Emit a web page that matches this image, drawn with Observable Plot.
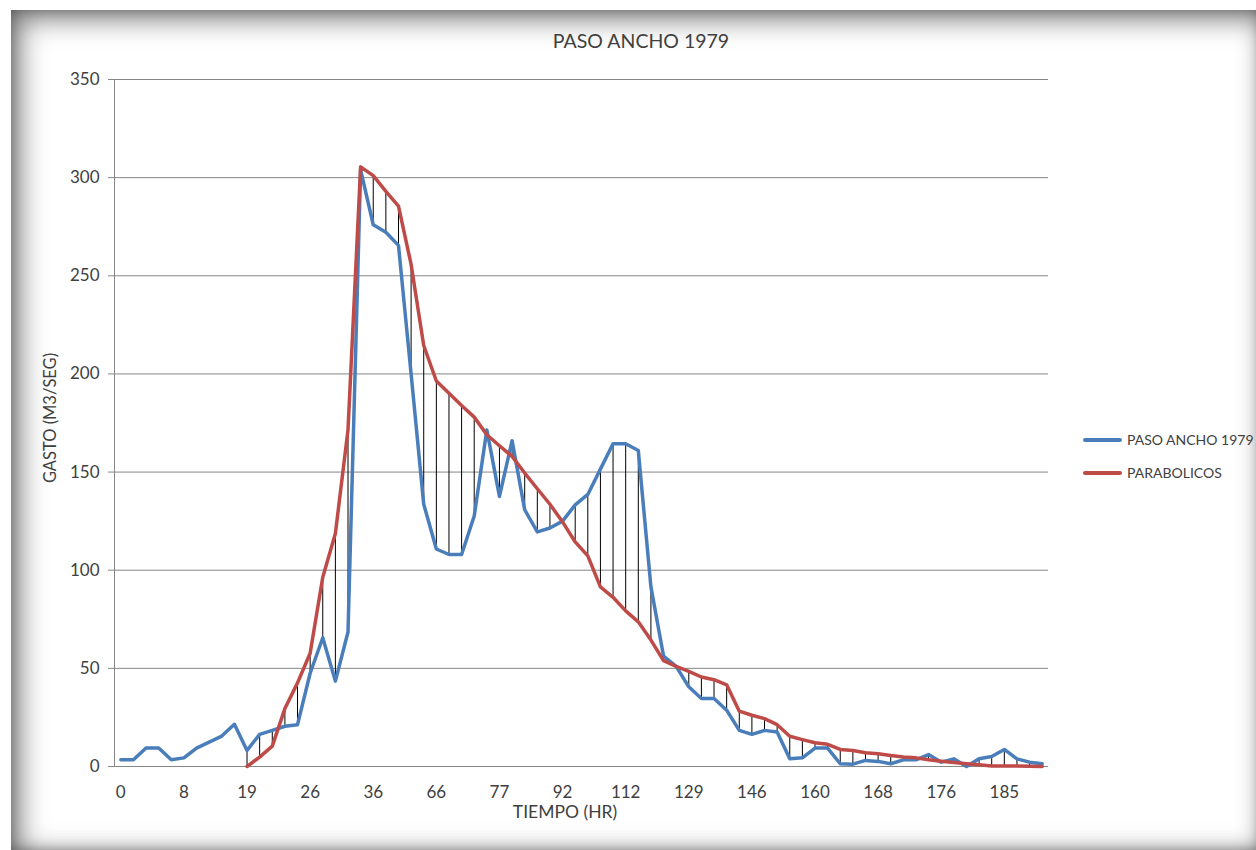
<!DOCTYPE html>
<html><head><meta charset="utf-8">
<script src="https://cdn.jsdelivr.net/npm/d3@7"></script>
<script src="https://cdn.jsdelivr.net/npm/@observablehq/plot@0.6"></script>
<style>
html,body{margin:0;padding:0;background:#fff;width:1256px;height:850px;overflow:hidden;font-family:Lato,"Open Sans",sans-serif;}
#frame{position:absolute;left:11px;top:10px;width:1252px;height:843px;background:#fff;
  box-shadow: inset 5px 5px 28px 3px rgba(0,0,0,0.55), inset -2px -2px 14px 0px rgba(0,0,0,0.35);}
#chart{position:absolute;left:0;top:0;}
.t{position:absolute;color:#404040;white-space:nowrap;line-height:1;}
#title{left:641px;top:30.5px;font-size:19.5px;transform:translateX(-50%);}
#ytitle{left:50px;top:418px;font-size:16.5px;transform:translate(-50%,-50%) rotate(-90deg);}
#xtitle{left:565px;top:802.5px;font-size:17.5px;transform:translateX(-50%);}
.leg{position:absolute;left:1083px;font-size:14px;color:#404040;line-height:1;display:flex;align-items:center;}
.sw{width:39px;height:3.5px;margin-right:5px;border-radius:2px;}
</style></head><body>
<div id="frame"></div>
<div id="chart"></div>
<div class="t" id="title">PASO ANCHO 1979</div>
<div class="t" id="ytitle">GASTO (M3/SEG)</div>
<div class="t" id="xtitle">TIEMPO (HR)</div>
<div id="legend"></div>
<script>
// Category tick labels (TIEMPO, HR) shown every 5th category
const tickIndex = [0,5,10,15,20,25,30,35,40,45,50,55,60,65,70];
const tickLabels = ["0","8","19","26","36","66","77","92","112","129","146","160","168","176","185"];
const yTicks = [0,50,100,150,200,250,300,350];

// Series: PASO ANCHO 1979 (observed)
const pasoAncho = [
  3.4, 3.4, 9.4, 9.4, 3.4, 4.4, 9.4, 12.4, 15.5, 21.5,
  8.2, 16.4, 18.4, 20.5, 21.3, 47.5, 65.6, 43.5, 68.5, 304,
  276, 272.2, 265.5, 200, 133.6, 110.8, 108, 108, 127.6, 171.5,
  137.6, 166, 130.8, 119.5, 121.5, 125, 133.3, 138.6, 151.5, 164.4,
  164.4, 161, 91.5, 56.3, 51, 40.6, 34.6, 34.6, 28.7, 18.4,
  16.4, 18.4, 17.6, 3.9, 4.4, 9.4, 9.4, 1.4, 1.2, 3.1,
  2.6, 1.4, 3.4, 3.4, 6.1, 2.2, 3.9, 0, 3.9, 5.1,
  8.7, 3.9, 2.2, 1.4
];
// Series: PARABOLICOS (starts at category 10)
const parabolicos = [
  null, null, null, null, null, null, null, null, null, null,
  0, 4.8, 10.4, 29.5, 42.6, 57.7, 96.4, 118.7, 171.5, 305.5,
  301, 293, 285.5, 255.8, 214.5, 196.4, 190.2, 183.9, 178, 169,
  163.4, 158, 149.5, 141.5, 133.6, 124.6, 114.4, 107.3, 91.5, 86.2,
  79.3, 73.7, 64.4, 53.9, 51, 48.5, 45.6, 44.2, 41.6, 28.2,
  26.1, 24.4, 21.3, 15.4, 13.7, 12.1, 11.3, 8.7, 8.2, 7,
  6.5, 5.6, 4.8, 4.4, 3.4, 2.7, 2, 1.4, 0.9, 0.3,
  0.2, 0.2, 0.1, 0
];
const seriesNames = ["PASO ANCHO 1979", "PARABOLICOS"];
const seriesColors = ["#4a7ebb", "#be4b48"];

const rows = pasoAncho.map((v, i) => ({i, blue: v, red: parabolicos[i]}));
const both = rows.filter(d => d.red != null);

const chart = Plot.plot({
  width: 1256, height: 850,
  marginLeft: 114, marginRight: 208, marginTop: 79, marginBottom: 84,
  style: {fontFamily: "Lato, 'Open Sans', sans-serif", fontSize: "17px", color: "#404040", background: "transparent", overflow: "visible"},
  x: {type: "linear", domain: [-0.5, pasoAncho.length - 0.5]},
  y: {domain: [0, 350]},
  marks: [
    Plot.gridY(yTicks, {stroke: "#868686", strokeOpacity: 1}),
    Plot.frame({anchor: "left", stroke: "#868686"}),
    Plot.axisY(yTicks, {tickSize: 6, tickPadding: 9, stroke: "#868686", fill: "#404040", label: null}),
    Plot.axisX(tickIndex, {tickSize: 0, tickPadding: 19, fill: "#404040", label: null,
      tickFormat: i => tickLabels[tickIndex.indexOf(i)]}),
    Plot.ruleX(both, {x: "i", y1: "blue", y2: "red", stroke: "#000", strokeWidth: 1}),
    Plot.lineY(rows, {x: "i", y: "blue", stroke: seriesColors[0], strokeWidth: 3.5, strokeLinejoin: "round"}),
    Plot.lineY(both, {x: "i", y: "red", stroke: seriesColors[1], strokeWidth: 3.5, strokeLinejoin: "round"})
  ]
});
document.getElementById("chart").appendChild(chart);

const legend = document.getElementById("legend");
const legendY = [440, 473];
seriesNames.forEach((name, k) => {
  const row = document.createElement("div");
  row.className = "leg";
  row.style.top = (legendY[k] - 7) + "px";
  row.style.height = "14px";
  const sw = document.createElement("div");
  sw.className = "sw";
  sw.style.background = seriesColors[k];
  row.appendChild(sw);
  const tx = document.createElement("span");
  tx.textContent = name;
  row.appendChild(tx);
  legend.appendChild(row);
});
</script>
</body></html>
